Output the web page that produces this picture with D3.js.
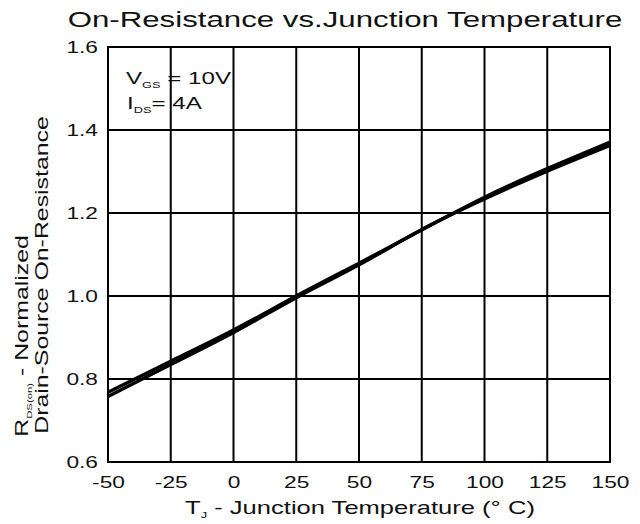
<!DOCTYPE html>
<html>
<head>
<meta charset="utf-8">
<script src="https://cdn.jsdelivr.net/npm/d3@7"></script>
<style>
  body { margin: 0; background: #fff; }
  text { font-family: "Liberation Sans", Arial, Helvetica, sans-serif; fill: #111; }
</style>
</head>
<body>
<svg id="chart" width="640" height="524"></svg>
<script>
// chart data
const temps = [-50, -25, 0, 25, 50, 75, 100, 125, 150];
const rdsUpper = [0.768, 0.843, 0.918, 1.000, 1.079, 1.159, 1.238, 1.307, 1.371];
const rdsLower = [0.758, 0.835, 0.912, 0.996, 1.075, 1.160, 1.234, 1.301, 1.363];
const xTicks = [-50, -25, 0, 25, 50, 75, 100, 125, 150];
const yTicks = [0.6, 0.8, 1.0, 1.2, 1.4, 1.6];

const width = 640, height = 524;
const margin = { top: 47, right: 30, bottom: 62, left: 108 };
const stretch = 1.42; // text in the original is drawn wide

const svg = d3.select("#chart");

const x = d3.scaleLinear()
  .domain([-50, 150])
  .range([margin.left, width - margin.right]);
const y = d3.scaleLinear()
  .domain([0.6, 1.6])
  .range([height - margin.bottom, margin.top]);

// grid
svg.append("g")
  .selectAll("line")
  .data(xTicks)
  .join("line")
    .attr("x1", d => x(d)).attr("x2", d => x(d))
    .attr("y1", y(0.6)).attr("y2", y(1.6))
    .attr("stroke", "#000").attr("stroke-width", 2);

svg.append("g")
  .selectAll("line")
  .data(yTicks)
  .join("line")
    .attr("x1", x(-50)).attr("x2", x(150))
    .attr("y1", d => y(d)).attr("y2", d => y(d))
    .attr("stroke", "#000").attr("stroke-width", 2);

svg.append("rect")
  .attr("x", x(-50)).attr("y", y(1.6))
  .attr("width", x(150) - x(-50)).attr("height", y(0.6) - y(1.6))
  .attr("fill", "none").attr("stroke", "#000").attr("stroke-width", 2);

// stretched text helper
function label(g, px, py, size, anchor, rotate) {
  const t = g.append("g")
    .attr("transform", `translate(${px},${py})` + (rotate ? ` rotate(${rotate})` : "") + ` scale(${stretch},1)`)
    .append("text")
      .attr("text-anchor", anchor)
      .style("font-size", size + "px");
  return t;
}

// axes labels via d3 axes (ticks hidden, only text kept)
const xAxis = svg.append("g")
  .attr("transform", `translate(0,${y(0.6)})`)
  .call(d3.axisBottom(x).tickValues(xTicks).tickSize(0).tickFormat(d3.format("d")));
xAxis.select(".domain").remove();
xAxis.selectAll(".tick text").remove();
xAxis.selectAll(".tick").each(function(d) {
  label(d3.select(this), 0, 26, 16, "middle").text(d);
});

const yAxis = svg.append("g")
  .attr("transform", `translate(${x(-50)},0)`)
  .call(d3.axisLeft(y).tickValues(yTicks).tickSize(0).tickFormat(d3.format(".1f")));
yAxis.select(".domain").remove();
yAxis.selectAll(".tick text").remove();
yAxis.selectAll(".tick").each(function(d) {
  label(d3.select(this), -10, 5, 16, "end").text(d3.format(".1f")(d));
});

// curves
const line = d3.line()
  .x((d, i) => x(temps[i]))
  .y(d => y(d))
  .curve(d3.curveNatural);

[rdsUpper, rdsLower].forEach(s => {
  svg.append("path")
    .attr("d", line(s))
    .attr("fill", "none")
    .attr("stroke", "#000")
    .attr("stroke-width", 3.4);
});

// title
label(svg, 345, 27, 22, "middle").text("On-Resistance vs.Junction Temperature");

// test conditions
const c1 = label(svg, 126, 84, 17, "start");
c1.append("tspan").text("V");
c1.append("tspan").attr("dy", 4).style("font-size", "9px").text("GS");
c1.append("tspan").attr("dy", -4).text(" = 10V");
const c2 = label(svg, 127, 109, 17, "start");
c2.append("tspan").text("I");
c2.append("tspan").attr("dy", 4).style("font-size", "9px").text("DS");
c2.append("tspan").attr("dy", -4).text("= 4A");

// x title
const xt = label(svg, 360, 514, 18, "middle");
xt.append("tspan").text("T");
xt.append("tspan").attr("dy", 4).style("font-size", "9px").text("J");
xt.append("tspan").attr("dy", -4).text(" - Junction Temperature (° C)");

// y title, two lines
const yt1 = label(svg, 28, 336, 17.5, "middle", -90);
yt1.append("tspan").text("R");
yt1.append("tspan").attr("dy", 4).style("font-size", "8px").text("DS(on)");
yt1.append("tspan").attr("dy", -4).text(" - Normalized");
label(svg, 48, 275, 17.5, "middle", -90).text("Drain-Source On-Resistance");
</script>
</body>
</html>
